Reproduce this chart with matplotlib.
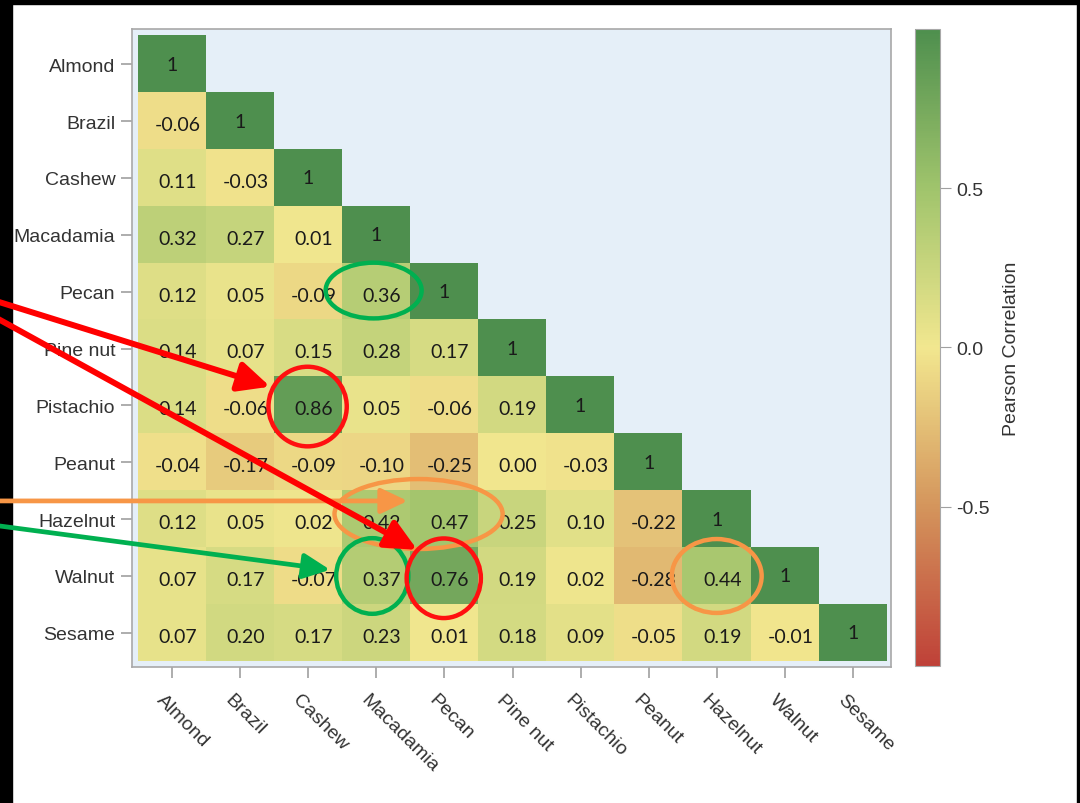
import numpy as np
import matplotlib.pyplot as plt
from matplotlib.colors import LinearSegmentedColormap
from matplotlib.patches import Ellipse, Rectangle, FancyArrowPatch
from matplotlib.transforms import ScaledTranslation

# nombres de las nueces
nuts = ["Almond", "Brazil", "Cashew", "Macadamia", "Pecan", "Pine nut",
        "Pistachio", "Peanut", "Hazelnut", "Walnut", "Sesame"]

# triangulo inferior de la matriz de correlacion, fila por fila
rows = [
    [1],
    [-0.06, 1],
    [0.11, -0.03, 1],
    [0.32, 0.27, 0.01, 1],
    [0.12, 0.05, -0.09, 0.36, 1],
    [0.14, 0.07, 0.15, 0.28, 0.17, 1],
    [0.14, -0.06, 0.86, 0.05, -0.06, 0.19, 1],
    [-0.04, -0.17, -0.09, -0.10, -0.25, 0.00, -0.03, 1],
    [0.12, 0.05, 0.02, 0.42, 0.47, 0.25, 0.10, -0.22, 1],
    [0.07, 0.17, -0.07, 0.37, 0.76, 0.19, 0.02, -0.28, 0.44, 1],
    [0.07, 0.20, 0.17, 0.23, 0.01, 0.18, 0.09, -0.05, 0.19, -0.01, 1],
]

cbar_ticks = [-0.5, 0.0, 0.5]

# circulos (col, fila, ancho, alto, color)
circles = [
    (2.96, 3.98, 1.41, 0.98, "#00b050"),
    (1.99, 6.02, 1.15, 1.40, "#ff1010"),
    (3.62, 7.91, 2.47, 1.23, "#f79646"),
    (2.94, 9.00, 1.06, 1.33, "#00b050"),
    (3.99, 9.04, 1.09, 1.40, "#ff1010"),
    (8.00, 9.00, 1.32, 1.30, "#f79646"),
]

# flechas (desde, hasta, color, grosor, escala de punta)
arrows = [
    ((-2.6, 7.68), (3.46, 7.68), "#f79646", 3.4, 17),
    ((-2.6, 8.11), (2.32, 8.89), "#00b050", 3.4, 17),
    ((-2.6, 4.16), (1.44, 5.67), "#ff0000", 4.3, 20),
    ((-2.6, 4.45), (3.60, 8.54), "#ff0000", 4.3, 20),
]

n = len(nuts)
M = np.full((n, n), np.nan)
for i, r in enumerate(rows):
    M[i, :len(r)] = r
M = np.ma.masked_invalid(M)

cmap = LinearSegmentedColormap.from_list(
    "nuez", [(0.0, "#bf4138"), (0.25, "#d4955c"), (0.5, "#f2e78f"),
             (0.75, "#a0c46c"), (1.0, "#4e8f4e")])

plt.rcParams['font.family'] = ['Liberation Sans', 'DejaVu Sans']

fig = plt.figure(figsize=(10.8, 8.04), dpi=100)
fig.patch.set_facecolor("white")
ax = fig.add_axes([0.1222, 0.1692, 0.7028, 0.7935])
ax.set_facecolor("#e5eff8")

im = ax.imshow(M, cmap=cmap, vmin=-1, vmax=1, aspect="auto")
ax.set_xlim(-0.59, 10.56)
ax.set_ylim(10.6, -0.62)

for i, r in enumerate(rows):
    for j, v in enumerate(r):
        if i == j:
            s = "1"
            dx, dy = 0.0, 0.0
        else:
            s = "%.2f" % v
            dx, dy = 0.08, 0.06
        ax.text(j + dx, i + dy, s, ha="center", va="center",
                fontsize=14, color="#1a1a1a", family=["Lato", "DejaVu Sans"])

ax.set_xticks(range(n))
ax.set_yticks(range(n))
ax.set_yticklabels(nuts, fontsize=14, color="#333333")
ax.set_xticklabels(nuts, fontsize=14, color="#333333", rotation=-45,
                   ha="left", va="top", rotation_mode="anchor")
ax.tick_params(axis="both", length=8, color="#a0a0a0", width=1.2, pad=4)
ax.tick_params(axis="x", pad=9)
shift = ScaledTranslation(-7 / 100, 0, fig.dpi_scale_trans)
for lab in ax.get_xticklabels():
    lab.set_transform(lab.get_transform() + shift)
for sp in ax.spines.values():
    sp.set_color("#a8a8a8")
    sp.set_linewidth(1.2)

cax = fig.add_axes([0.8472, 0.1704, 0.0231, 0.7923])
cb = fig.colorbar(im, cax=cax, ticks=cbar_ticks, format="%.1f")
cb.outline.set_edgecolor("#a8a8a8")
cb.ax.tick_params(labelsize=14, length=8, color="#a0a0a0", labelcolor="#333333")
cb.set_label("Pearson Correlation", fontsize=14, color="#333333", labelpad=10)

for (x, y, w, h, c) in circles:
    ax.add_patch(Ellipse((x, y), w, h, fill=False, edgecolor=c, lw=3.2,
                         clip_on=False, zorder=5))

for (p0, p1, c, lw, ms) in arrows:
    a = FancyArrowPatch(p0, p1, arrowstyle="-|>,head_length=0.95,head_width=0.45",
                        mutation_scale=ms, color=c, lw=lw, clip_on=False,
                        zorder=6, shrinkA=0, shrinkB=0)
    ax.add_patch(a)

# marco negro de la captura
fig.add_artist(Rectangle((0, 0), 12 / 1080, 1, transform=fig.transFigure,
                         color="black", zorder=0))
fig.add_artist(Rectangle((0, 1 - 5 / 804), 1, 5 / 804, transform=fig.transFigure,
                         color="black", zorder=0))
fig.add_artist(Rectangle((1 - 3 / 1080, 0), 3 / 1080, 1, transform=fig.transFigure,
                         color="black", zorder=0))

plt.savefig("out.png", dpi=100)
plt.close()
